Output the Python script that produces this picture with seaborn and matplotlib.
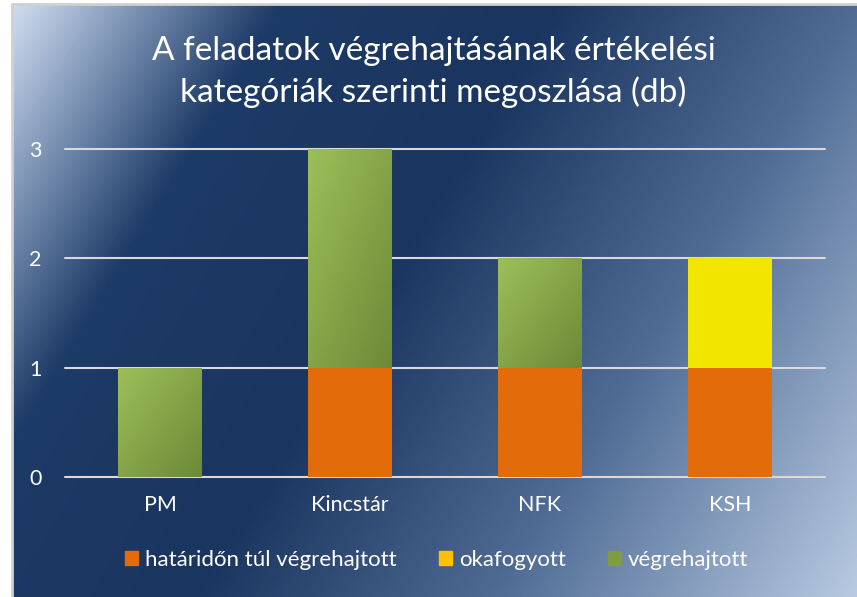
import numpy as np
import pandas as pd
import matplotlib
matplotlib.use("Agg")
import matplotlib.pyplot as plt
import seaborn as sns
from matplotlib.colors import LinearSegmentedColormap
from matplotlib.patches import Rectangle

categories = ["PM", "Kincstár", "NFK", "KSH"]
late = [0, 1, 1, 1]          # határidőn túl végrehajtott
obsolete = [0, 0, 0, 1]      # okafogyott
done = [1, 2, 1, 0]          # végrehajtott
series_names = ["határidőn túl végrehajtott", "okafogyott", "végrehajtott"]
title = "A feladatok végrehajtásának értékelési\nkategóriák szerinti megoszlása (db)"

sns.set_theme(style="white")
plt.rcParams['font.family'] = ['Lato', 'DejaVu Sans']

W, H = 857, 597
fig = plt.figure(figsize=(W / 100, H / 100), dpi=100)
fig.patch.set_facecolor("white")

# background gradient
bg = fig.add_axes([12 / W, 0, 1 - 12 / W, 1 - 4 / H], zorder=0)
bg.set_axis_off()
yy, xx = np.mgrid[0:1:400j, 0:1:600j]
t = (xx * 0.7 + yy * 0.3)
bg_cmap = LinearSegmentedColormap.from_list(
    "bgc", [(0.0, "#d0dcef"), (0.08, "#8ea3c2"), (0.22, "#1d3b67"),
            (0.45, "#1a355f"), (0.7, "#4f6b94"), (1.0, "#b8cae2")])
bg.imshow(t, cmap=bg_cmap, aspect="auto", extent=[0, 1, 0, 1], origin="upper",
          vmin=0, vmax=1)
bg.set_xlim(0, 1); bg.set_ylim(0, 1)
fig.add_artist(plt.Line2D([12 / W, 12 / W], [0, 1 - 4 / H], color="#d0d0d0", lw=2))
fig.add_artist(plt.Line2D([12 / W, 1], [1 - 4 / H, 1 - 4 / H], color="#d0d0d0", lw=2))

ax = fig.add_axes([65 / W, 1 - 477 / H, (825 - 65) / W, (477 - 149) / H], zorder=1)
ax.patch.set_alpha(0)

df = pd.DataFrame({"cat": categories, "late": late, "obs": obsolete, "done": done})
df["b2"] = df["late"]
df["b3"] = df["late"] + df["obs"]

width = 0.44
common = dict(order=categories, width=width, ax=ax, saturation=1, zorder=3,
              linewidth=0, edgecolor="none")
sns.barplot(data=df, x="cat", y="late", color="#e36c0a", **common)
n1 = len(ax.patches)
sns.barplot(data=df, x="cat", y="obs", color="#f2e500",
            bottom=df["b2"].values, **common)
n2 = len(ax.patches)
sns.barplot(data=df, x="cat", y="done", color="#8aa84b",
            bottom=df["b3"].values, **common)

ax.set_xlim(-0.5, 3.5)
ax.set_ylim(0, 3)

# gradient fill for green bars
gcmap = LinearSegmentedColormap.from_list("g", ["#9dbf5a", "#6d8a36"])
gy, gx = np.mgrid[0:1:100j, 0:1:100j]
grad = gx * 0.5 + gy * 0.5
for p in ax.patches[n2:]:
    if p.get_height() <= 0:
        continue
    x0, y0 = p.get_x(), p.get_y()
    w, h = p.get_width(), p.get_height()
    im = ax.imshow(grad, cmap=gcmap, extent=[x0, x0 + w, y0, y0 + h],
                   origin="upper", aspect="auto", zorder=3.5, vmin=0, vmax=1)
    im.set_clip_path(p)
ax.set_xlim(-0.5, 3.5)
ax.set_ylim(0, 3)

ax.set_yticks([0, 1, 2, 3])
for yv in [0, 1, 2, 3]:
    ax.axhline(yv, color="#d9d9d9", lw=1.5, zorder=2, clip_on=False)
for s in ax.spines.values():
    s.set_visible(False)
ax.set_xlabel("")
ax.set_ylabel("")
ax.tick_params(axis="both", length=0, colors="white", labelsize=15.5)
ax.tick_params(axis="y", pad=17)
ax.tick_params(axis="x", pad=13)
for lbl in ax.get_xticklabels() + ax.get_yticklabels():
    lbl.set_color("white")

fig.text(0.5 + 5 / W, 1 - 72 / H, title, ha="center", va="center", color="white",
         fontsize=24, linespacing=1.37)

handles = [Rectangle((0, 0), 1, 1, color=c) for c in ["#e36c0a", "#ffc000", "#7e9c42"]]
fig.legend(handles, series_names, loc="center", bbox_to_anchor=(0.5 + 8 / W, 1 - 560 / H),
           ncol=3, frameon=False, labelcolor="white", fontsize=16,
           handlelength=0.6, handleheight=0.6, handletextpad=0.3, columnspacing=1.9)

fig.savefig("out.png", dpi=100, facecolor=fig.get_facecolor())
